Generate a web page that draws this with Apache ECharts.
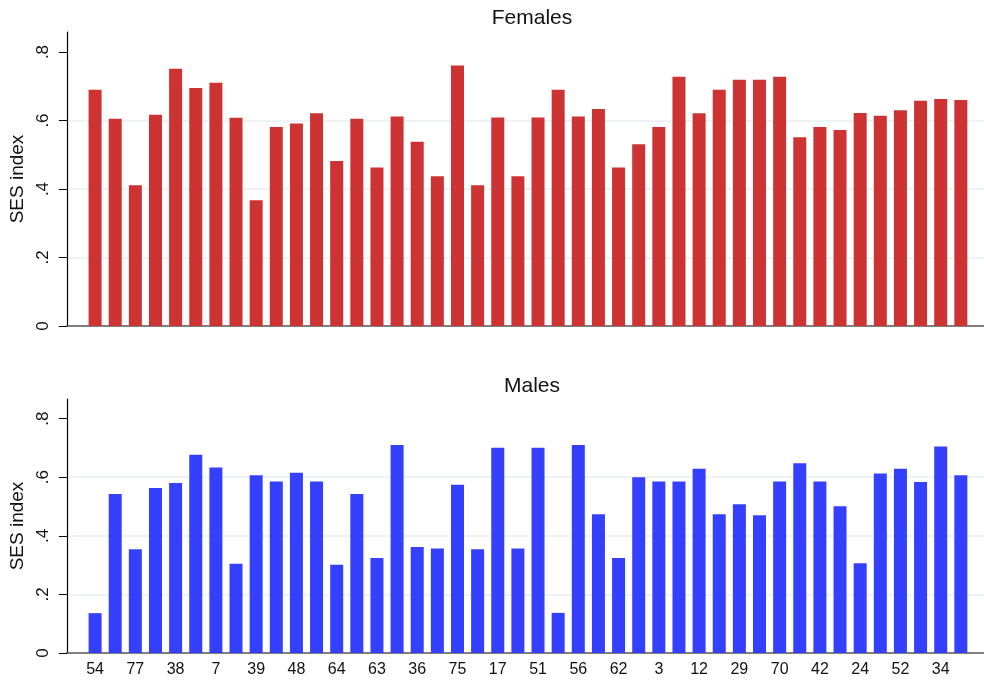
<!DOCTYPE html>
<html>
<head>
<meta charset="utf-8">
<script src="https://cdn.jsdelivr.net/npm/echarts@6/dist/echarts.min.js"></script>
<style>
  html, body { margin: 0; padding: 0; background: #fff; }
  #chart { width: 984px; height: 681px; }
</style>
</head>
<body>
<div id="chart"></div>
<script>
// 区县编号（只有偶数位置有标签）
const categories = [
    '54', '', '77', '', '38', '', '7', '', '39', '', '48', '',
    '64', '', '63', '', '36', '', '75', '', '17', '', '51', '',
    '56', '', '62', '', '3', '', '12', '', '29', '', '70', '',
    '42', '', '24', '', '52', '', '34', ''
];

// 女性 SES 指数
const femaleSes = [
    0.690, 0.605, 0.411, 0.617, 0.751, 0.695, 0.710, 0.608, 0.367, 0.581, 0.591,
    0.621, 0.482, 0.605, 0.463, 0.612, 0.538, 0.437, 0.761, 0.411, 0.609, 0.437,
    0.609, 0.690, 0.612, 0.634, 0.463, 0.531, 0.581, 0.728, 0.621, 0.690, 0.719,
    0.719, 0.728, 0.551, 0.581, 0.572, 0.622, 0.614, 0.630, 0.658, 0.663, 0.660
];

// 男性 SES 指数
const maleSes = [
    0.136, 0.543, 0.354, 0.563, 0.580, 0.677, 0.633, 0.305, 0.607, 0.585, 0.615,
    0.585, 0.301, 0.543, 0.324, 0.710, 0.362, 0.357, 0.574, 0.354, 0.701, 0.357,
    0.701, 0.137, 0.710, 0.474, 0.324, 0.600, 0.585, 0.585, 0.629, 0.474, 0.508,
    0.470, 0.585, 0.648, 0.585, 0.501, 0.306, 0.613, 0.629, 0.584, 0.705, 0.607
];

// y 轴刻度
const yTicks = [0, 0.2, 0.4, 0.6, 0.8];

const labelIdx = categories.map((c, i) => c === '' ? -1 : i).filter(i => i >= 0);
const FONT = "'Liberation Sans', Arial, sans-serif";

function toPairs(arr) {
    return arr.map((v, i) => [i, v]);
}

function fmtY(v) {
    return v === 0 ? '0' : String(v).replace(/^0/, '');
}

function makeX(gridIndex, showLabels) {
    return {
        type: 'value',
        gridIndex: gridIndex,
        min: -1.4,
        max: 44.15,
        splitLine: { show: false },
        axisTick: { show: false },
        axisLine: { show: true, onZero: false, lineStyle: { color: '#555', width: 1.5 } },
        axisLabel: {
            show: showLabels,
            customValues: labelIdx,
            formatter: v => categories[Math.round(v)] || '',
            color: '#111',
            fontSize: 16,
            fontFamily: FONT,
            margin: 9
        }
    };
}

function makeY(gridIndex, max) {
    return {
        type: 'value',
        gridIndex: gridIndex,
        min: 0,
        max: max,
        interval: 0.2,
        name: 'SES index',
        nameLocation: 'middle',
        nameGap: 33,
        nameTextStyle: { color: '#111', fontSize: 19, fontFamily: FONT },
        axisLine: { show: true, onZero: false, lineStyle: { color: '#000', width: 1.2 } },
        axisTick: { show: true, length: 8, customValues: yTicks, lineStyle: { color: '#000' } },
        axisLabel: {
            customValues: yTicks,
            rotate: 90,
            formatter: fmtY,
            color: '#111',
            fontSize: 17,
            fontFamily: FONT,
            margin: 15
        },
        splitLine: {
            show: true,
            showMinLine: false,
            showMaxLine: false,
            lineStyle: { color: '#e8eff2', width: 1.5 }
        }
    };
}

const chart = echarts.init(document.getElementById('chart'));

chart.setOption({
    animation: false,
    backgroundColor: '#fff',
    title: [
        {
            text: 'Females', left: 527, top: 3, textAlign: 'center',
            textStyle: { color: '#111', fontSize: 21, fontWeight: 'normal', fontFamily: FONT }
        },
        {
            text: 'Males', left: 527, top: 371, textAlign: 'center',
            textStyle: { color: '#111', fontSize: 21, fontWeight: 'normal', fontFamily: FONT }
        }
    ],
    grid: [
        { left: 66, right: 0, top: 32, bottom: 355 },
        { left: 66, right: 0, top: 399, bottom: 28 }
    ],
    xAxis: [makeX(0, false), makeX(1, true)],
    yAxis: [makeY(0, 0.8585), makeY(1, 0.867)],
    series: [
        {
            type: 'bar',
            xAxisIndex: 0,
            yAxisIndex: 0,
            barWidth: 13,
            itemStyle: { color: '#cd3333' },
            data: toPairs(femaleSes)
        },
        {
            type: 'bar',
            xAxisIndex: 1,
            yAxisIndex: 1,
            barWidth: 13,
            itemStyle: { color: '#3540ff' },
            data: toPairs(maleSes)
        }
    ]
});
</script>
</body>
</html>
